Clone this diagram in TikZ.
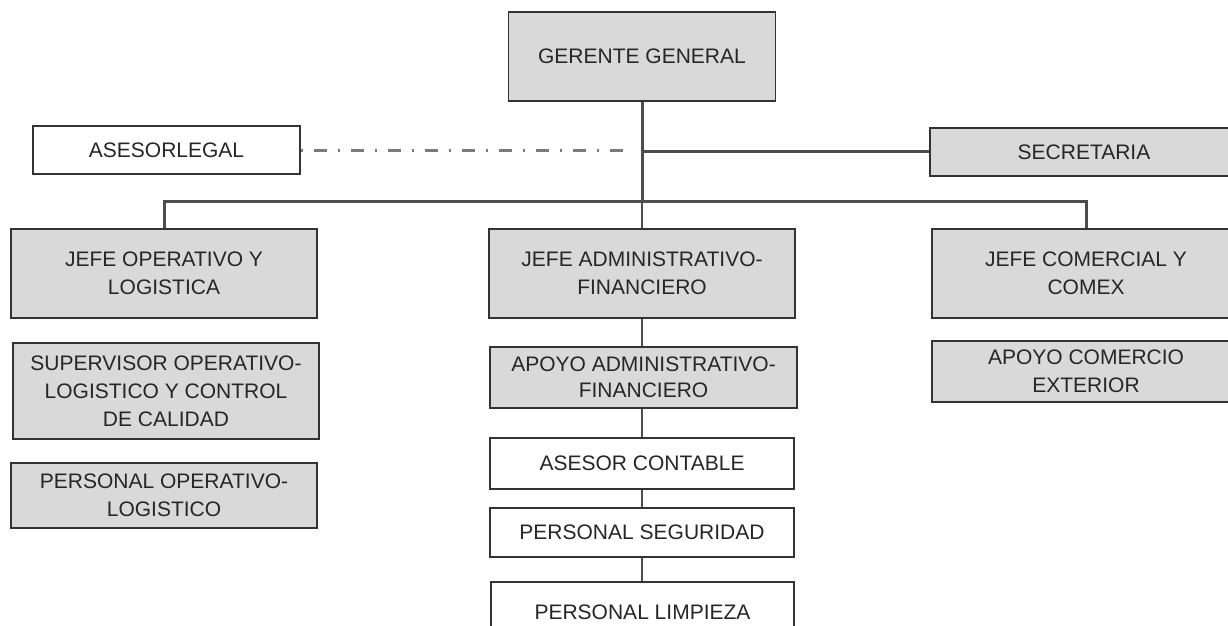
\documentclass[tikz,border=0pt]{standalone}
\usepackage{fontspec}
\setmainfont{Liberation Sans}
\definecolor{boxgray}{HTML}{D9D9D9}
\definecolor{edge}{HTML}{333333}
\definecolor{conn}{HTML}{4D4D4D}
\definecolor{dashc}{HTML}{7A7A7A}
\definecolor{txt}{HTML}{262626}
\tikzset{
 orgbox/.style={draw=edge, line width=1.4pt, fill=boxgray, inner sep=0pt, align=center, text=txt, font=\fontsize{21}{28}\selectfont, anchor=center},
 whitebox/.style={orgbox, fill=white},
 thickconn/.style={draw=conn, line width=3pt},
 thinconn/.style={draw=conn, line width=1.3pt},
 dashdotconn/.style={draw=dashc, line width=3pt, dash pattern=on 2pt off 11pt on 13pt off 11pt},
}
\begin{document}
\begin{tikzpicture}[x=1pt,y=-1pt]
\useasboundingbox (0,0) rectangle (1228,625);
\clip (0,0) rectangle (1228,625);
\fill[white] (0,0) rectangle (1228,625);
% nodes
\node[orgbox, minimum width=267, minimum height=89] (gerente) at (642,56.5) {GERENTE GENERAL};
\node[whitebox, minimum width=267, minimum height=48] (asesor) at (166.5,150) {ASESORLEGAL};
\node[orgbox, minimum width=308, minimum height=48] (secretaria) at (1084,152) {SECRETARIA};
\node[orgbox, minimum width=306, minimum height=89] (jefeop) at (164,273.5) {JEFE OPERATIVO Y\\LOGISTICA};
\node[orgbox, minimum width=306, minimum height=89] (jefeadm) at (642,273.5) {JEFE ADMINISTRATIVO-\\FINANCIERO};
\node[orgbox, minimum width=308, minimum height=89] (jefecom) at (1086,273.5) {JEFE COMERCIAL Y\\COMEX};
\node[orgbox, minimum width=306, minimum height=96] (supervisor) at (166,391) {SUPERVISOR OPERATIVO-\\LOGISTICO Y CONTROL\\DE CALIDAD};
\node[orgbox, minimum width=306, minimum height=65] (persop) at (164,495.5) {PERSONAL OPERATIVO-\\LOGISTICO};
\node[orgbox, minimum width=307, minimum height=61, font=\fontsize{21}{26}\selectfont] (apoyoadm) at (643.5,377.5) {APOYO ADMINISTRATIVO-\\FINANCIERO};
\node[whitebox, minimum width=304, minimum height=51] (asesorcont) at (642,463.5) {ASESOR CONTABLE};
\node[whitebox, minimum width=304, minimum height=49] (persseg) at (642,532.5) {PERSONAL SEGURIDAD};
\node[whitebox, minimum width=303, minimum height=60] (perslimp) at (642.5,612) {PERSONAL LIMPIEZA};
\node[orgbox, minimum width=308, minimum height=61] (apoyocom) at (1086,371.5) {APOYO COMERCIO\\EXTERIOR};
% coordinates
\coordinate (hub) at (642,201);
\coordinate (secj) at (642,151);
\coordinate (dashend) at (628,150);
% connectors
\draw[dashdotconn] (asesor.east) -- (dashend);
\draw[thickconn] (gerente.south) -- (hub);
\draw[thickconn] (secj) -- (secj -| secretaria.west);
\draw[thickconn] (jefeop.north) |- (hub) -| (jefecom.north);
\draw[thinconn] (hub) -- (jefeadm.north);
\draw[thinconn] (jefeadm.south) -- (jefeadm.south |- apoyoadm.north);
\draw[thinconn] (jefeadm.south |- apoyoadm.south) -- (jefeadm.south |- asesorcont.north);
\draw[thinconn] (jefeadm.south |- asesorcont.south) -- (jefeadm.south |- persseg.north);
\draw[thinconn] (jefeadm.south |- persseg.south) -- (jefeadm.south |- perslimp.north);
\end{tikzpicture}
\end{document}
